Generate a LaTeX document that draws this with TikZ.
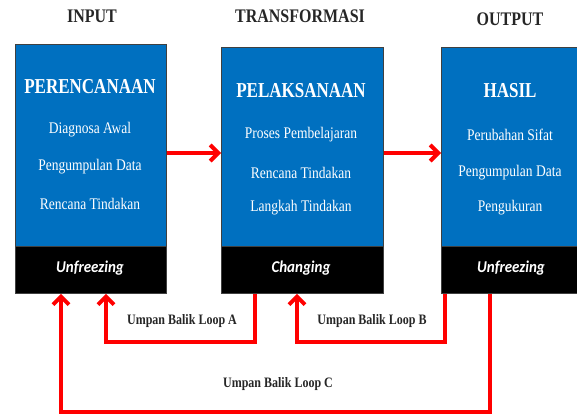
\documentclass[tikz,border=0pt]{standalone}
\usepackage{fontspec}
\setmainfont{Liberation Serif}
\newfontfamily\carl{Carlito}
\usetikzlibrary{arrows.meta}
\definecolor{boxblue}{HTML}{0070C0}
\definecolor{loopred}{HTML}{FF0000}
\begin{document}
\begin{tikzpicture}[x=1pt,y=-1pt,
  bluebox/.style={draw=black!75,line width=0.8pt,fill=boxblue,anchor=north west,inner sep=0pt},
  blackbox/.style={draw=black!75,line width=0.8pt,fill=black,anchor=north west,inner sep=0pt},
  status/.style={text=white,font=\carl\bfseries\itshape\fontsize{15}{18}\selectfont,yscale=1.1,transform shape},
  header/.style={font=\bfseries\fontsize{16}{19}\selectfont,text=black!85,yscale=1.2,transform shape},
  title/.style={font=\bfseries\fontsize{17}{20}\selectfont,text=white,yscale=1.25,transform shape},
  item/.style={font=\fontsize{13.5}{16}\selectfont,text=white,yscale=1.2,transform shape},
  looplabel/.style={font=\bfseries\fontsize{12}{14}\selectfont,text=black!85,yscale=1.2,transform shape},
  flow/.style={draw=loopred,line width=4pt,-{Straight Barb[length=8pt,width=16pt]}}
]
\useasboundingbox (0,0) rectangle (577,417);
\clip (0,0) rectangle (577,417);

% headers
\node[header] (h1) at (92,16) {INPUT};
\node[header] (h2) at (300,16) {TRANSFORMASI};
\node[header] (h3) at (510,19) {OUTPUT};

% boxes
\node[bluebox,minimum width=151pt,minimum height=202pt] (b1) at (15,44) {};
\node[blackbox,minimum width=151pt,minimum height=47pt] (k1) at (15,246) {};
\node[bluebox,minimum width=162pt,minimum height=199pt] (b2) at (221,47) {};
\node[blackbox,minimum width=162pt,minimum height=47pt] (k2) at (221,246) {};
\node[bluebox,minimum width=145pt,minimum height=199pt] (b3) at (441,47) {};
\node[blackbox,minimum width=145pt,minimum height=47pt] (k3) at (441,246) {};

\node[status] (s1) at (90,268) {Unfreezing};
\node[status] (s2) at (301,268) {Changing};
\node[status] (s3) at (511,268) {Unfreezing};

% box texts
\node[title] (t1) at (90,87) {PERENCANAAN};
\node[item] (i11) at (90,130) {Diagnosa Awal};
\node[item] (i12) at (90,167) {Pengumpulan Data};
\node[item] (i13) at (90,204) {Rencana Tindakan};

\node[title] (t2) at (301,91) {PELAKSANAAN};
\node[item] (i21) at (301,135) {Proses Pembelajaran};
\node[item] (i22) at (301,173) {Rencana Tindakan};
\node[item] (i23) at (301,208) {Langkah Tindakan};

\node[title] (t3) at (510,91) {HASIL};
\node[item] (i31) at (510,135) {Perubahan Sifat};
\node[item] (i32) at (510,173) {Pengumpulan Data};
\node[item] (i33) at (510,208) {Pengukuran};

% forward arrows
\coordinate (yf) at (0,153);
\draw[flow] (b1.east |- yf) -- (b2.west |- yf);
\draw[flow] (b2.east |- yf) -- (b3.west |- yf);

% feedback loops
\coordinate (a1) at (255,342);
\coordinate (a2) at (106,342);
\draw[flow] (k2.south -| a1) |- (a2) -- (k1.south -| a2);
\coordinate (bb1) at (445,342);
\coordinate (bb2) at (297,342);
\draw[flow] (k3.south -| bb1) |- (bb2) -- (k2.south -| bb2);
\coordinate (c1) at (490,412);
\coordinate (c2) at (61,412);
\draw[flow] (k3.south -| c1) |- (c2) -- (k1.south -| c2);

\node[looplabel] (la) at (182,321) {Umpan Balik Loop A};
\node[looplabel] (lb) at (372,321) {Umpan Balik Loop B};
\node[looplabel] (lc) at (278,384) {Umpan Balik Loop C};
\end{tikzpicture}
\end{document}
